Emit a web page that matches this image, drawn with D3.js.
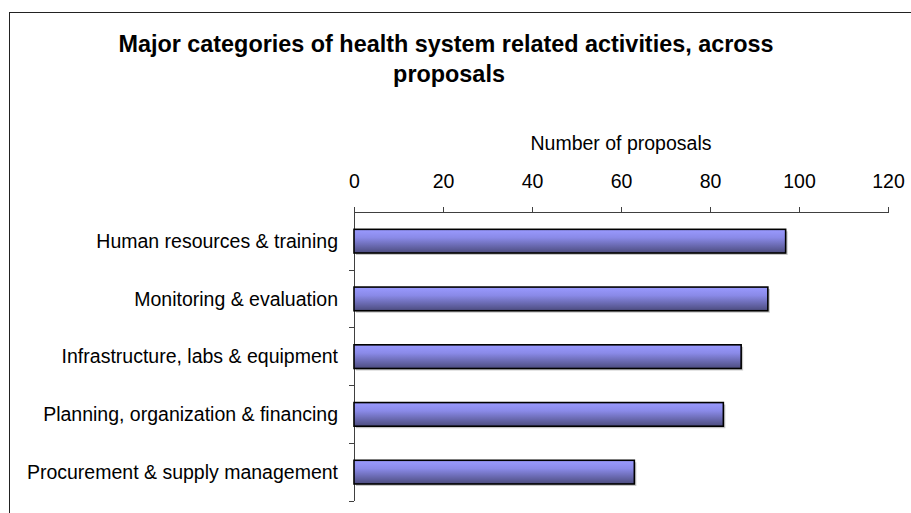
<!DOCTYPE html>
<html lang="en">
<head>
<meta charset="UTF-8">
<title>Major categories of health system related activities</title>
<style>
    body { margin: 0; background: #fff; }
    svg { display: block; font-family: "Liberation Sans", Arial, sans-serif; }
    .axis path, .axis line { stroke: #404040; shape-rendering: crispEdges; }
</style>
</head>
<body>
<div id="chart"></div>
<script src="https://cdn.jsdelivr.net/npm/d3@7"></script>
<script>
    // data
    const categories = [
        "Human resources & training",
        "Monitoring & evaluation",
        "Infrastructure, labs & equipment",
        "Planning, organization & financing",
        "Procurement & supply management"
    ];
    const proposals = [97, 93, 87, 83, 63];
    const xTicks = [0, 20, 40, 60, 80, 100, 120];

    const W = 911, H = 513;
    const svg = d3.select("#chart").append("svg")
        .attr("width", W).attr("height", H);

    // outer frame (runs off the right and bottom edge)
    svg.append("rect")
        .attr("x", 9.5).attr("y", 12.5)
        .attr("width", W + 20).attr("height", H + 20)
        .attr("fill", "none").attr("stroke", "#222").attr("stroke-width", 1);

    // gradient for the bars
    const grad = svg.append("defs").append("linearGradient")
        .attr("id", "barFill").attr("x1", 0).attr("y1", 0).attr("x2", 0).attr("y2", 1);
    grad.append("stop").attr("offset", "0%").attr("stop-color", "#9a9aff");
    grad.append("stop").attr("offset", "35%").attr("stop-color", "#8a8ae8");
    grad.append("stop").attr("offset", "100%").attr("stop-color", "#4c4c7e");

    const plotL = 354, plotR = 888, plotT = 212.3, plotB = 501;

    const x = d3.scaleLinear().domain([0, 120]).range([plotL, plotR]);
    const y = d3.scaleBand().domain(categories).range([plotT, plotB])
        .paddingInner(0.59).paddingOuter(0.295);

    // title
    const title = svg.append("text")
        .attr("text-anchor", "middle")
        .attr("font-size", 23.4).attr("font-weight", "bold").attr("fill", "#000");
    title.append("tspan").attr("x", 446).attr("y", 51.7)
        .text("Major categories of health system related activities, across");
    title.append("tspan").attr("x", 449).attr("y", 81.7).text("proposals");

    // x axis on top
    const xAxis = svg.append("g").attr("class", "axis")
        .attr("transform", `translate(0,${plotT})`)
        .call(d3.axisTop(x).tickValues(xTicks).tickSize(5).tickSizeOuter(5).tickPadding(19));
    xAxis.selectAll("text")
        .attr("font-family", "Liberation Sans, Arial, sans-serif")
        .attr("font-size", 19.5).attr("fill", "#000");

    svg.append("text")
        .attr("x", (plotL + plotR) / 2).attr("y", 150)
        .attr("text-anchor", "middle")
        .attr("font-size", 19.5).attr("fill", "#000")
        .text("Number of proposals");

    // category axis: ticks between the bands
    const yAx = svg.append("g").attr("class", "axis");
    yAx.append("line")
        .attr("x1", plotL).attr("x2", plotL)
        .attr("y1", plotT).attr("y2", plotB);
    const step = y.step();
    yAx.selectAll("line.tick")
        .data(d3.range(1, categories.length + 1))
        .enter().append("line")
        .attr("class", "tick")
        .attr("x1", plotL - 5).attr("x2", plotL)
        .attr("y1", i => plotT + i * step).attr("y2", i => plotT + i * step);

    // labels
    svg.selectAll("text.cat")
        .data(categories)
        .enter().append("text")
        .attr("class", "cat")
        .attr("x", plotL - 16)
        .attr("y", d => y(d) + y.bandwidth() / 2)
        .attr("dy", "0.35em")
        .attr("text-anchor", "end")
        .attr("font-size", 19.5).attr("fill", "#000")
        .text(d => d);

    // bar shadows, then bars
    svg.selectAll("rect.shadow")
        .data(proposals)
        .enter().append("rect")
        .attr("class", "shadow")
        .attr("x", x(0) + 2)
        .attr("y", (d, i) => y(categories[i]) + 2)
        .attr("width", d => x(d) - x(0))
        .attr("height", y.bandwidth())
        .attr("fill", "#c8c8c8");

    svg.selectAll("rect.bar")
        .data(proposals)
        .enter().append("rect")
        .attr("class", "bar")
        .attr("x", x(0))
        .attr("y", (d, i) => y(categories[i]))
        .attr("width", d => x(d) - x(0))
        .attr("height", y.bandwidth())
        .attr("fill", "url(#barFill)")
        .attr("stroke", "#000").attr("stroke-width", 1.6);
</script>
</body>
</html>
